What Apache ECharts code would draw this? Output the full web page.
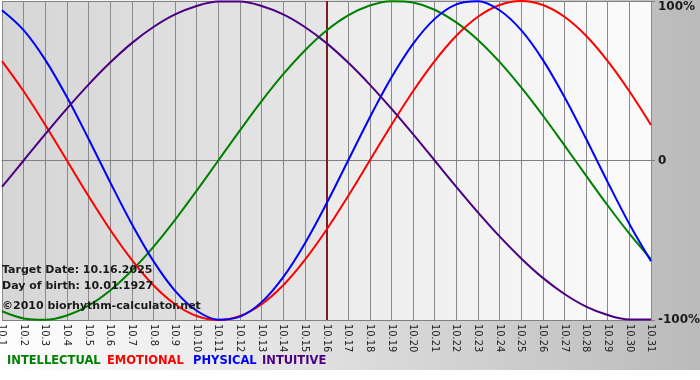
<!DOCTYPE html>
<html>
<head>
<meta charset="utf-8">
<script src="https://cdn.jsdelivr.net/npm/echarts@6/dist/echarts.min.js"></script>
<style>
html,body{margin:0;padding:0;background:#fff;}
#chart{width:700px;height:380px;}
</style>
</head>
<body>
<div id="chart"></div>
<script>
var categories = ['10.1','10.2','10.3','10.4','10.5','10.6','10.7','10.8','10.9','10.10','10.11','10.12','10.13','10.14','10.15','10.16','10.17','10.18','10.19','10.20','10.21','10.22','10.23','10.24','10.25','10.26','10.27','10.28','10.29','10.30','10.31'];
var intellectual = [-94.5,-99.0,-99.9,-97.2,-91.0,-81.5,-69.0,-54.1,-37.2,-18.9,0,18.9,37.2,54.1,69.0,81.5,91.0,97.2,99.9,99.0,94.5,86.6,75.6,61.8,45.8,28.2,9.5,-9.5,-28.2,-45.8,-61.8];
var emotional = [62.3,43.4,22.3,0,-22.3,-43.4,-62.3,-78.2,-90.1,-97.5,-100,-97.5,-90.1,-78.2,-62.3,-43.4,-22.3,0,22.3,43.4,62.3,78.2,90.1,97.5,100,97.5,90.1,78.2,62.3,43.4,22.3];
var physical = [94.2,81.7,63.1,39.8,13.6,-13.6,-39.8,-63.1,-81.7,-94.2,-99.8,-97.9,-88.8,-73.1,-52.0,-27.0,0,27.0,52.0,73.1,88.8,97.9,99.8,94.2,81.7,63.1,39.8,13.6,-13.6,-39.8,-63.1];
var intuitive = [-16.5,0,16.5,32.5,47.6,61.4,73.6,83.7,91.6,96.9,99.7,99.7,96.9,91.6,83.7,73.6,61.4,47.6,32.5,16.5,0,-16.5,-32.5,-47.6,-61.4,-73.6,-83.7,-91.6,-96.9,-99.7,-99.7];
var targetDay = '10.16';
var infoLines = ['Target Date: 10.16.2025','Day of birth: 10.01.1927','\u00A92010 biorhythm-calculator.net'];
var legendNames = ['INTELLECTUAL','EMOTIONAL','PHYSICAL','INTUITIVE'];
var colors = ['#008000','#ff0000','#0000ff','#4b0082'];

var chart = echarts.init(document.getElementById('chart'));
var lineSeries = function(name, data, color, extra){
  var s = {name:name,type:'line',data:data,smooth:0.35,symbol:'none',
    lineStyle:{color:color,width:2},itemStyle:{color:color},z:5,animation:false};
  return Object.assign(s, extra||{});
};
var infoFont = 'bold 11px "DejaVu Sans", sans-serif';
var legFont = 'bold 11.5px "DejaVu Sans", sans-serif';
var legX = [7,107,193,262];
var graphics = [
  {type:'rect',z:-10,silent:true,shape:{x:0,y:0,width:700,height:370},
   style:{fill:new echarts.graphic.LinearGradient(0,0,1,0,[{offset:0,color:'#ffffff'},{offset:1,color:'#bababa'}])}},
  {type:'text',left:2,top:265,z:20,style:{text:infoLines[0],font:infoFont,fill:'#1a1a1a'}},
  {type:'text',left:2,top:281,z:20,style:{text:infoLines[1],font:infoFont,fill:'#1a1a1a'}},
  {type:'text',left:2,top:301,z:20,style:{text:infoLines[2],font:infoFont,fill:'#1a1a1a'}}
];
legendNames.forEach(function(n,i){
  graphics.push({type:'text',left:legX[i],top:355,z:20,style:{text:n,font:legFont,fill:colors[i]}});
});
var option = {
  animation:false,
  backgroundColor:'#ffffff',
  graphic:graphics,
  grid:{left:2,right:49,top:1,bottom:60,show:false,containLabel:false,outerBoundsMode:'none'},
  xAxis:{type:'category',data:categories,boundaryGap:false,
    axisLine:{show:true,lineStyle:{color:'#808080',width:1}},
    axisTick:{show:true,length:4,interval:0,lineStyle:{color:'#808080'}},
    axisLabel:{interval:0,rotate:-90,margin:4,color:'#222',fontSize:11,fontFamily:'"Liberation Sans Narrow","DejaVu Sans Condensed",sans-serif'},
    splitLine:{show:true,interval:0,lineStyle:{color:'#8a8a8a',width:1}}},
  yAxis:{type:'value',min:-100,max:100,interval:100,position:'right',
    axisLine:{show:false},
    axisTick:{show:true,length:4,lineStyle:{color:'#808080'}},
    axisLabel:{margin:7,color:'#1a1a1a',fontSize:12,fontWeight:'bold',fontFamily:'"DejaVu Sans", sans-serif',
      verticalAlignMaxLabel:'top',
      formatter:function(v){return v===0?'0':v+'%';}},
    splitLine:{show:true,lineStyle:{color:'#808080',width:1}}},
  series:[
    lineSeries(legendNames[0], intellectual, colors[0], {
      markArea:{silent:true,z:-1,data:[
        [{xAxis:categories[0],itemStyle:{color:new echarts.graphic.LinearGradient(0,0,1,0,[{offset:0,color:'#d6d6d6'},{offset:1,color:'#e6e6e6'}])}},{xAxis:targetDay}],
        [{xAxis:targetDay,itemStyle:{color:new echarts.graphic.LinearGradient(0,0,1,0,[{offset:0,color:'#ebebeb'},{offset:1,color:'#fbfbfb'}])}},{xAxis:categories[categories.length-1]}]
      ]},
      markLine:{silent:true,symbol:'none',label:{show:false},z:3,
        lineStyle:{color:'#7a1f1f',width:2,type:'solid'},data:[{xAxis:targetDay}]}
    }),
    lineSeries(legendNames[1], emotional, colors[1]),
    lineSeries(legendNames[2], physical, colors[2]),
    lineSeries(legendNames[3], intuitive, colors[3])
  ]
};
chart.setOption(option);
</script>
</body>
</html>
